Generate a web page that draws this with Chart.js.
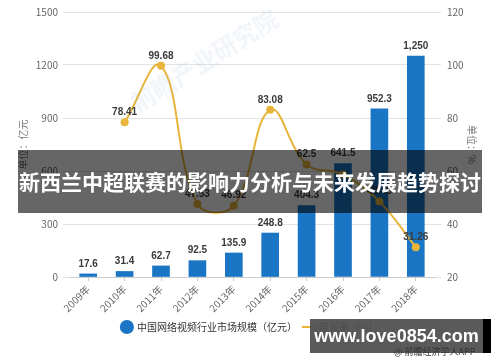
<!DOCTYPE html>
<html><head><meta charset="utf-8">
<script src="https://cdn.jsdelivr.net/npm/chart.js@4/dist/chart.umd.min.js"></script>
<style>
html,body{margin:0;padding:0;background:#fff;}
#wrap{position:relative;width:500px;height:362px;overflow:hidden;background:#fff;}
#c{position:absolute;left:0;top:0;}
.faint{position:absolute;left:140px;top:88px;transform:rotate(-32deg);transform-origin:left bottom;font:bold 24px "Noto Sans CJK SC";line-height:28px;color:rgba(170,190,215,0.16);white-space:nowrap;}
.banner{position:absolute;left:18px;top:150px;width:464px;height:63px;background:rgba(0,0,0,0.6);color:#fff;font:bold 21px "Noto Sans CJK SC";line-height:63px;text-align:center;white-space:nowrap;}
.wm{position:absolute;left:310px;top:319px;width:173px;height:34px;background:rgba(78,78,78,0.93);border-right:8px solid #000;color:#fff;font:bold 18px "Liberation Sans";line-height:34px;text-align:center;white-space:nowrap;}
.src{position:absolute;left:394px;top:345px;font:9px "Noto Sans CJK SC";color:#333;white-space:nowrap;}
</style></head>
<body><div id="wrap"><canvas id="c" width="500" height="362"></canvas>
<div class="faint">前瞻产业研究院</div>
<div class="banner">新西兰中超联赛的影响力分析与未来发展趋势探讨</div>
<div class="wm">www.love0854.com</div>
<div class="src">@ 前瞻经济学人APP</div>
</div>
<script>
const years = ['2009年','2010年','2011年','2012年','2013年','2014年','2015年','2016年','2017年','2018年'];
const marketSize = [17.6,31.4,62.7,92.5,135.9,248.8,404.3,641.5,952.3,1250];
const marketLabels = ['17.6','31.4','62.7','92.5','135.9','248.8','404.3','641.5','952.3','1,250'];
const growthRate = [null,78.41,99.68,47.53,46.92,83.08,62.5,58.67,48.45,31.26];
const growthLabels = ['','78.41','99.68','47.53','46.92','83.08','62.5','','48.45','31.26'];
const seriesNames = ['中国网络视频行业市场规模（亿元）','增长率（%）'];
const leftAxisTitle = '单位：亿元';
const rightAxisTitle = '单位：%';

const FONT = "'Noto Sans CJK SC','Liberation Sans',sans-serif";
const labelPlugin = {
  id:'vlabels',
  afterDatasetsDraw(chart){
    const ctx = chart.ctx;
    ctx.save();
    ctx.font = "bold 10px 'Liberation Sans'";
    ctx.fillStyle = '#3a3a3a';
    ctx.textAlign = 'center';
    ctx.textBaseline = 'middle';
    chart.getDatasetMeta(0).data.forEach((el,i)=>{
      ctx.fillText(marketLabels[i], el.x, el.y - 10);
    });
    chart.getDatasetMeta(1).data.forEach((el,i)=>{
      if (growthRate[i] == null || !growthLabels[i]) return;
      ctx.fillText(growthLabels[i], el.x, el.y - 10);
    });
    ctx.restore();
  }
};

new Chart(document.getElementById('c'), {
  type:'bar',
  data:{
    labels: years,
    datasets:[
      {label:seriesNames[0], data:marketSize, backgroundColor:'#1a76c4', yAxisID:'y', order:1,
       barThickness:17, pointStyle:'circle'},
      {type:'line', label:seriesNames[1], data:growthRate, yAxisID:'y1', order:0,
       borderColor:'#e8b53a', backgroundColor:'#e8b53a', borderWidth:2, tension:0.4,
       pointRadius:4, pointBackgroundColor:'#e8b53a', pointBorderWidth:0, pointStyle:'circle'}
    ]
  },
  options:{
    responsive:false, animation:false,
    layout:{padding:{top:11,bottom:20,left:0,right:0}},
    plugins:{
      tooltip:{enabled:false},
      legend:{position:'bottom',
        labels:{usePointStyle:true, padding:7, boxWidth:10, boxHeight:10, color:'#333', font:{family:FONT,size:10},
          sort:(a,b)=>a.datasetIndex-b.datasetIndex,
          generateLabels(chart){
            const items = Chart.defaults.plugins.legend.labels.generateLabels(chart);
            items.forEach(it=>{
              if (it.datasetIndex === 1) { it.pointStyle='line'; it.lineWidth=2; it.strokeStyle='#e8b53a'; }
              else { it.pointStyle='circle'; }
            });
            return items;
          }}}
    },
    scales:{
      x:{
        grid:{display:true, drawOnChartArea:false, offset:false, tickLength:4, tickColor:'#cccccc'},
        border:{display:true, color:'#cccccc'},
        ticks:{minRotation:45, maxRotation:45, padding:2, color:'#666', font:{family:FONT,size:10}},
        afterFit(s){ s.height = 38; }
      },
      y:{
        position:'left', min:0, max:1500,
        ticks:{stepSize:300, padding:5, color:'#666', font:{family:FONT,size:10}, callback:v=>String(v)},
        grid:{color:'#e3e3e3', tickColor:'#e3e3e3', tickLength:7},
        border:{display:false},
        title:{display:true, text:leftAxisTitle, color:'#777', font:{family:FONT,size:10}, padding:{top:17,bottom:0}},
        afterFit(s){ s.width = 70; }
      },
      y1:{
        position:'right', min:20, max:120,
        ticks:{stepSize:20, padding:6, color:'#666', font:{family:FONT,size:10}, callback:v=>String(v)},
        grid:{drawOnChartArea:false, tickColor:'#e3e3e3', tickLength:7},
        border:{display:false},
        title:{display:true, text:rightAxisTitle, color:'#777', font:{family:FONT,size:10}, padding:{top:22,bottom:0}},
        afterFit(s){ s.width = 66; }
      }
    }
  },
  plugins:[labelPlugin]
});
</script></body></html>
